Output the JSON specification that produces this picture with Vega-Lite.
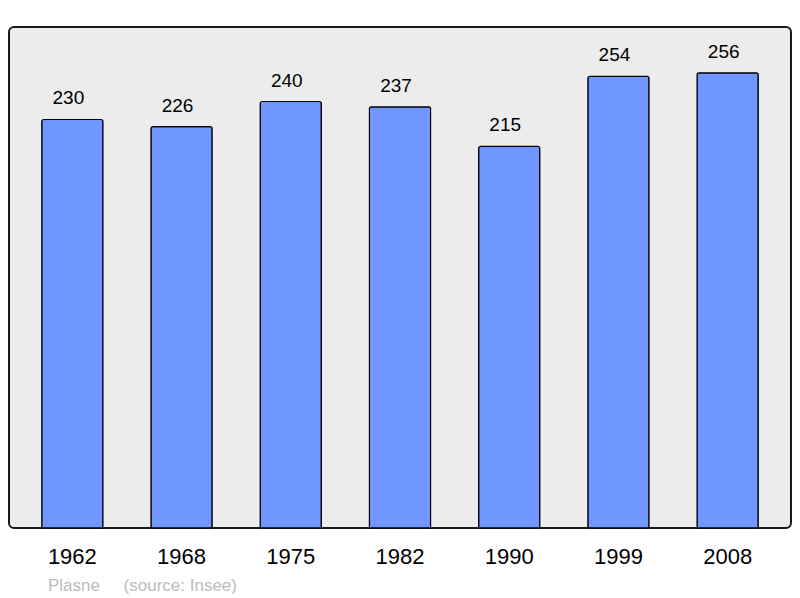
{
  "$schema": "https://vega.github.io/schema/vega-lite/v6.json",
  "width": 782,
  "height": 501,
  "autosize": {"type": "none"},
  "padding": {"left": 9, "top": 27, "right": 9, "bottom": 70},
  "background": "white",
  "config": {
    "font": "Liberation Sans",
    "view": {"fill": "#ececec", "stroke": "#1a1a1a", "strokeWidth": 2, "cornerRadius": 5}
  },
  "title": {
    "text": "Plasne\u00a0\u00a0\u00a0\u00a0\u00a0(source: Insee)",
    "orient": "bottom",
    "anchor": "start",
    "dx": 39,
    "offset": 11,
    "fontSize": 17,
    "fontWeight": "normal",
    "color": "#bbbbbb",
    "font": "Liberation Sans"
  },
  "data": {
    "values": [
      {"year": "1962", "population": 230},
      {"year": "1968", "population": 226},
      {"year": "1975", "population": 240},
      {"year": "1982", "population": 237},
      {"year": "1990", "population": 215},
      {"year": "1999", "population": 254},
      {"year": "2008", "population": 256}
    ]
  },
  "encoding": {
    "x": {
      "field": "year",
      "type": "ordinal",
      "title": null,
      "scale": {"paddingInner": 0.44, "paddingOuter": 0.3},
      "axis": {
        "domain": false,
        "ticks": false,
        "labelAngle": 0,
        "labelFontSize": 22,
        "labelColor": "#000000",
        "labelBaseline": "alphabetic",
        "labelPadding": 35
      }
    },
    "y": {
      "field": "population",
      "type": "quantitative",
      "scale": {"domain": [2.5, 281.5], "nice": false, "zero": false, "clamp": true},
      "axis": null
    }
  },
  "layer": [
    {
      "mark": {
        "type": "bar",
        "color": "#7097ff",
        "stroke": "#000000",
        "strokeWidth": 1.2,
        "cornerRadiusTopLeft": 2,
        "cornerRadiusTopRight": 2
      }
    },
    {
      "mark": {
        "type": "text",
        "fontSize": 19,
        "color": "#000000",
        "baseline": "alphabetic",
        "dy": -15,
        "dx": -4
      },
      "encoding": {
        "text": {"field": "population", "type": "quantitative"}
      }
    }
  ]
}
